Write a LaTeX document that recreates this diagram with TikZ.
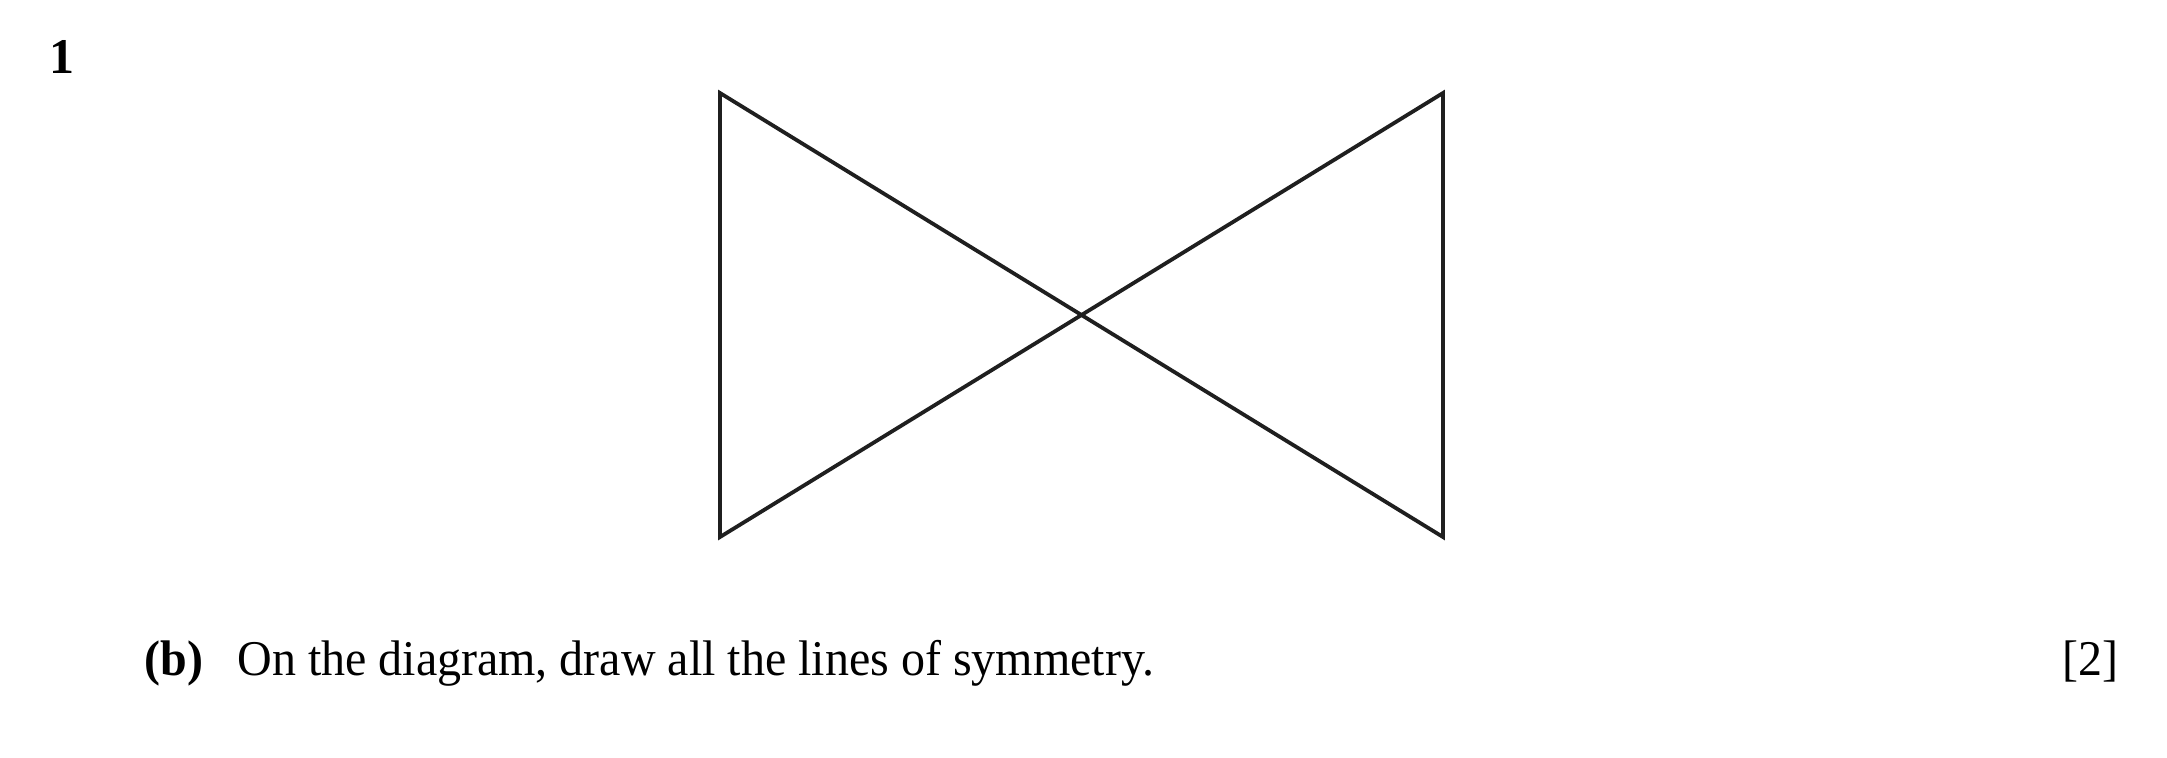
\documentclass[tikz,border=0pt]{standalone}
\usepackage{fontspec}
\setmainfont{Liberation Serif}
\newfontfamily\narrowserif[FakeStretch=0.96]{Liberation Serif}
\begin{document}
\begin{tikzpicture}[x=0.5pt,y=-0.5pt,
  txt/.style={inner sep=0pt,anchor=base west,font=\fontsize{25pt}{30pt}\selectfont\narrowserif},
  shapeline/.style={line width=1.9pt,draw=black!88,line join=miter}]
\useasboundingbox (0,0) rectangle (2167,757);
\coordinate (tl) at (720,93);
\coordinate (bl) at (720,537);
\coordinate (tr) at (1443,93);
\coordinate (br) at (1443,537);
\draw[shapeline] (tl) -- (br) -- (tr) -- (bl) -- cycle;
\node[txt,font=\fontsize{25pt}{30pt}\selectfont\bfseries] (num) at (49,73) {1};
\node[txt,font=\fontsize{25pt}{30pt}\selectfont\narrowserif\bfseries] (lab) at (144,675) {(b)};
\node[txt] (q) at (237,675) {On the diagram, draw all the lines of symmetry.};
\node[txt] (mk) at (2062,675) {[2]};
\end{tikzpicture}
\end{document}
